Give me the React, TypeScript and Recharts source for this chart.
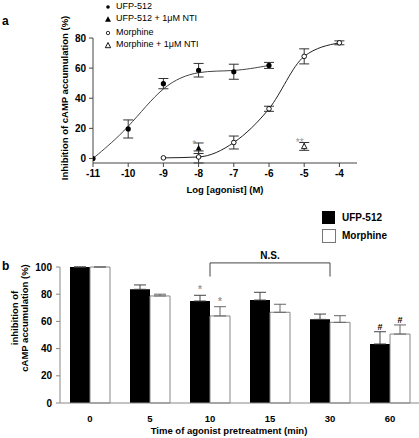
import React from 'react';
import {
  Bar,
  BarChart,
  ComposedChart,
  ErrorBar,
  LabelList,
  Line,
  ReferenceLine,
  Scatter,
  XAxis,
  YAxis,
} from 'recharts';

// panel a: concentration-response
const ufpDose = [-11, -10, -9, -8, -7, -6];
const ufpMean = [0, 19.6, 49.7, 58.6, 57.6, 61.8];
const ufpSem = [0, 6, 3.4, 4.5, 5, 2];
const morphDose = [-9, -8, -7, -6, -5, -4];
const morphMean = [0.4, 1, 10.6, 33, 67.8, 76.8];
const morphSem = [0, 4, 4.3, 1.7, 5, 1.3];
const ufpNtiDose = [-8];
const ufpNtiMean = [6.8];
const ufpNtiSem = [3.5];
const ufpNtiMark = ['*'];
const morphNtiDose = [-5];
const morphNtiMean = [8];
const morphNtiSem = [2.6];
const morphNtiMark = ['**'];
const logTicks = [-11, -10, -9, -8, -7, -6, -5, -4];
const pctTicksA = [0, 20, 40, 60, 80];

// panel b: pretreatment time
const times = ['0', '5', '10', '15', '30', '60'];
const ufpBar = [100, 83.6, 75, 75.7, 61.5, 43.4];
const ufpBarSem = [0, 3.2, 4.2, 5.7, 3.9, 9];
const morphBar = [100, 78.7, 64, 66.7, 59.3, 50.7];
const morphBarSem = [0, 1.3, 6.8, 5.9, 4.9, 6.7];
const ufpSig = ['', '', '*', '', '', '#'];
const morphSig = ['', '', '*', '', '', '#'];
const pctTicksB = [0, 20, 40, 60, 80, 100];
const edgeTicks = [0, 1, 2, 3, 4, 5, 6];

const pts = (xs: number[], ys: number[], es: number[], marks?: string[]) =>
  xs.map((x, i) => ({ x, y: ys[i], err: es[i], mark: marks ? marks[i] : '' }));

const ufpData = pts(ufpDose, ufpMean, ufpSem);
const morphData = pts(morphDose, morphMean, morphSem);
const ufpNtiData = pts(ufpNtiDose, ufpNtiMean, ufpNtiSem, ufpNtiMark);
const morphNtiData = pts(morphNtiDose, morphNtiMean, morphNtiSem, morphNtiMark);

const barData = times.map((t, i) => ({
  t,
  ufp: ufpBar[i],
  morph: morphBar[i],
  ufpErr: [0, ufpBarSem[i]],
  morphErr: [0, morphBarSem[i]],
  ufpSig: ufpSig[i],
  morphSig: morphSig[i],
}));

const font = '"Liberation Sans", Arial, sans-serif';
const tickStyle = { fontSize: 10, fontWeight: 'bold', fill: '#000' };

const dotFilled = (p: any) => <circle cx={p.cx} cy={p.cy} r={2.6} fill="#000" />;
const dotOpen = (p: any) => (
  <circle cx={p.cx} cy={p.cy} r={2.3} fill="#fff" stroke="#000" strokeWidth={0.9} />
);
const triFilled = (p: any) => (
  <polygon
    points={`${p.cx},${p.cy - 3.3} ${p.cx - 3},${p.cy + 2.3} ${p.cx + 3},${p.cy + 2.3}`}
    fill="#000"
  />
);
const triOpen = (p: any) => (
  <polygon
    points={`${p.cx},${p.cy - 3} ${p.cx - 2.7},${p.cy + 2.2} ${p.cx + 2.7},${p.cy + 2.2}`}
    fill="#fff"
    stroke="#000"
    strokeWidth={0.9}
  />
);

function Txt({ x, y, children, size = 10, bold = true, rotate = false, align = 'left' }: any) {
  const tf = rotate
    ? 'translate(-50%,-50%) rotate(-90deg)'
    : align === 'center'
      ? 'translate(-50%,-50%)'
      : 'translate(0,-50%)';
  return (
    <div
      style={{
        position: 'absolute',
        left: x,
        top: y,
        transform: tf,
        whiteSpace: 'nowrap',
        fontSize: size,
        fontWeight: bold ? 'bold' : 'normal',
        lineHeight: 1.1,
        textAlign: 'center',
      }}
    >
      {children}
    </div>
  );
}

function LegendSym({ x, y, kind }: { x: number; y: number; kind: string }) {
  return (
    <svg style={{ position: 'absolute', left: x - 5, top: y - 5 }} width={10} height={10}>
      {kind === 'dot' && <circle cx={5} cy={5} r={1.8} fill="#000" />}
      {kind === 'odot' && <circle cx={5} cy={5} r={1.7} fill="#fff" stroke="#000" strokeWidth={0.8} />}
      {kind === 'tri' && triFilled({ cx: 5, cy: 5.5 })}
      {kind === 'otri' && triOpen({ cx: 5, cy: 5.5 })}
    </svg>
  );
}

const sigLabel = (vals: number[], errs: number[]) => (p: any) => {
  const { x, y, width, height, value, index } = p;
  if (!value) return null;
  const pxu = height / vals[index];
  const top = y - errs[index] * pxu;
  return (
    <text
      x={x + width / 2}
      y={top - 2}
      textAnchor="middle"
      fontSize={value === '*' ? 10 : 9}
      fontWeight="bold"
      fill={value === '*' ? '#999' : '#000'}
    >
      {value}
    </text>
  );
};

const markLabel = (p: any) => {
  const { x, y, value } = p;
  if (!value) return null;
  return (
    <text x={x} y={y + 4.5} textAnchor="middle" fontSize={10} fill="#999">
      {value}
    </text>
  );
};

const noTick = () => <g />;

export default function App() {
  return (
    <div
      style={{
        position: 'absolute',
        left: 0,
        top: 0,
        width: 419,
        height: 438,
        background: '#fff',
        fontFamily: font,
        color: '#000',
      }}
    >
      <div style={{ position: 'absolute', left: 0, top: 0 }}>
        <ComposedChart width={419} height={200} margin={{ top: 38, right: 62, left: 63, bottom: 0 }}>
          <XAxis
            dataKey="x"
            type="number"
            domain={[-11, -3.5]}
            ticks={logTicks}
            allowDataOverflow
            stroke="#444"
            tickSize={4}
            tickMargin={3}
            tick={tickStyle}
            height={37}
          />
          <YAxis
            dataKey="y"
            type="number"
            domain={[0, 80]}
            ticks={pctTicksA}
            stroke="#444"
            tickSize={4}
            tickMargin={3}
            tick={tickStyle}
            width={30}
          />
          <Line
            data={ufpData}
            dataKey="y"
            type="basis"
            stroke="#444"
            strokeWidth={1}
            dot={false}
            isAnimationActive={false}
          />
          <Line
            data={morphData}
            dataKey="y"
            type="monotone"
            stroke="#222"
            strokeWidth={1}
            dot={false}
            isAnimationActive={false}
          />
          <Scatter data={ufpData} dataKey="y" shape={dotFilled} isAnimationActive={false}>
            <ErrorBar dataKey="err" direction="y" width={5} stroke="#333" strokeWidth={1} />
          </Scatter>
          <Scatter data={morphData} dataKey="y" shape={dotOpen} isAnimationActive={false}>
            <ErrorBar dataKey="err" direction="y" width={5} stroke="#333" strokeWidth={1} />
          </Scatter>
          <Scatter data={ufpNtiData} dataKey="y" shape={triFilled} isAnimationActive={false}>
            <ErrorBar dataKey="err" direction="y" width={5} stroke="#333" strokeWidth={1} />
            <LabelList dataKey="mark" position="top" content={markLabel} />
          </Scatter>
          <Scatter data={morphNtiData} dataKey="y" shape={triOpen} isAnimationActive={false}>
            <ErrorBar dataKey="err" direction="y" width={5} stroke="#333" strokeWidth={1} />
            <LabelList dataKey="mark" position="top" content={markLabel} />
          </Scatter>
        </ComposedChart>
      </div>

      <div style={{ position: 'absolute', left: 0, top: 200 }}>
        <BarChart
          width={420}
          height={238}
          data={barData}
          margin={{ top: 67, right: 0, left: 30, bottom: 0 }}
          barCategoryGap={10}
          barGap={0}
        >
          <XAxis
            xAxisId="edge"
            type="number"
            domain={[0, 6]}
            ticks={edgeTicks}
            tick={noTick}
            axisLine={false}
            tickLine={{ stroke: '#666' }}
            tickSize={4}
            height={0}
          />
          <XAxis
            dataKey="t"
            stroke="#888"
            tickLine={false}
            tickMargin={6}
            tick={{ ...tickStyle, fontSize: 9.5 }}
            height={35}
          />
          <YAxis
            type="number"
            domain={[0, 100]}
            ticks={pctTicksB}
            stroke="#888"
            tickSize={4}
            tickMargin={4}
            tick={tickStyle}
            width={30}
          />
          <Bar dataKey="ufp" fill="#000" isAnimationActive={false}>
            <ErrorBar dataKey="ufpErr" width={6} stroke="#444" strokeWidth={1} />
            <LabelList dataKey="ufpSig" content={sigLabel(ufpBar, ufpBarSem)} />
          </Bar>
          <Bar dataKey="morph" fill="#fff" stroke="#888" strokeWidth={1} isAnimationActive={false}>
            <ErrorBar dataKey="morphErr" width={6} stroke="#666" strokeWidth={1} />
            <LabelList dataKey="morphSig" content={sigLabel(morphBar, morphBarSem)} />
          </Bar>
          <ReferenceLine
            segment={[{ x: '10', y: 103 }, { x: '30', y: 103 }]}
            stroke="#444"
            ifOverflow="visible"
          />
          <ReferenceLine
            segment={[{ x: '10', y: 103 }, { x: '10', y: 93 }]}
            stroke="#444"
            ifOverflow="visible"
          />
          <ReferenceLine
            segment={[{ x: '30', y: 103 }, { x: '30', y: 93 }]}
            stroke="#444"
            ifOverflow="visible"
          />
        </BarChart>
      </div>

      {/* panel labels and titles */}
      <Txt x={2} y={22} size={12}>a</Txt>
      <Txt x={2} y={267} size={12}>b</Txt>

      <LegendSym x={108} y={7} kind="dot" />
      <Txt x={116} y={7} size={9} bold={false}>UFP-512</Txt>
      <LegendSym x={108} y={19} kind="tri" />
      <Txt x={116} y={19} size={9} bold={false}>UFP-512 + 1μM NTI</Txt>
      <LegendSym x={108} y={33} kind="odot" />
      <Txt x={116} y={33} size={9} bold={false}>Morphine</Txt>
      <LegendSym x={108} y={45} kind="otri" />
      <Txt x={116} y={45} size={9} bold={false}>Morphine + 1μM NTI</Txt>

      <Txt x={65} y={98} size={9.5} rotate>Inhibition of cAMP accumulation (%)</Txt>
      <Txt x={225} y={190} size={9.5} align="center">Log [agonist] (M)</Txt>

      <div style={{ position: 'absolute', left: 322, top: 211, width: 13, height: 13, background: '#000' }} />
      <Txt x={342} y={217} size={10}>UFP-512</Txt>
      <div
        style={{
          position: 'absolute',
          left: 322,
          top: 229,
          width: 12,
          height: 12,
          background: '#fff',
          border: '1px solid #777',
        }}
      />
      <Txt x={342} y={235} size={10}>Morphine</Txt>

      <Txt x={270} y={255} size={10} align="center">N.S.</Txt>
      <Txt x={20} y={318} size={9.5} rotate>
        inhibition of
        <br />
        cAMP accumulation (%)
      </Txt>
      <Txt x={229} y={431} size={9.5} align="center">Time of agonist pretreatment (min)</Txt>
    </div>
  );
}
